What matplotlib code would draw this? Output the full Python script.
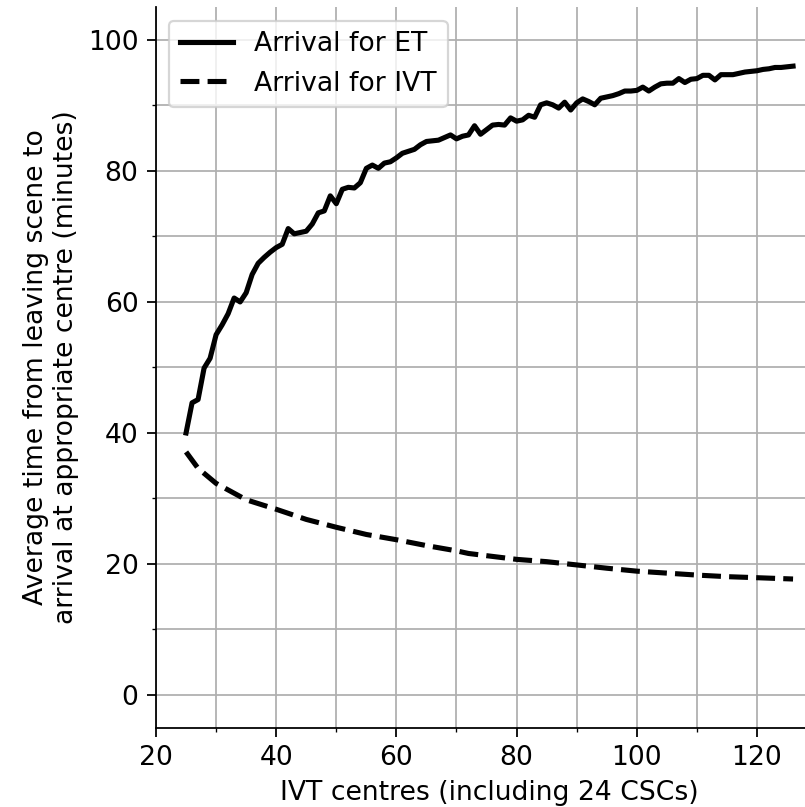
import matplotlib
matplotlib.use("Agg")
import matplotlib.pyplot as plt
from matplotlib.ticker import MultipleLocator

# ---- data ----
et_x = list(range(25, 127))
et_y = [40.0, 44.6, 45.1, 49.9, 51.4, 55.0, 56.5, 58.2, 60.6, 60.0,
        61.4, 64.2, 65.9, 66.8, 67.6, 68.3, 68.8, 71.2, 70.4, 70.6,
        70.8, 71.9, 73.6, 73.9, 76.2, 75.0, 77.2, 77.5, 77.4, 78.2,
        80.4, 80.9, 80.4, 81.2, 81.4, 82.0, 82.7, 83.0, 83.3, 84.0,
        84.5, 84.6, 84.7, 85.1, 85.5, 84.9, 85.3, 85.5, 86.9, 85.6,
        86.3, 87.0, 87.1, 87.0, 88.1, 87.6, 87.8, 88.5, 88.2, 90.1,
        90.4, 90.1, 89.6, 90.5, 89.3, 90.4, 91.0, 90.6, 90.1, 91.1,
        91.3, 91.5, 91.8, 92.2, 92.2, 92.3, 92.8, 92.2, 92.8, 93.3,
        93.4, 93.4, 94.1, 93.5, 94.0, 94.1, 94.6, 94.6, 93.9, 94.7,
        94.7, 94.7, 94.9, 95.1, 95.2, 95.3, 95.5, 95.6, 95.8, 95.8,
        95.9, 96.0]

ivt_x = [25, 27, 30, 35, 40, 45, 50, 55, 60, 65, 70, 72, 80, 85, 90,
         95, 100, 105, 110, 115, 120, 126]
ivt_y = [37.1, 34.6, 32.3, 29.8, 28.35, 26.8, 25.6, 24.5, 23.7, 22.8,
         22.0, 21.6, 20.7, 20.35, 19.85, 19.35, 18.9, 18.6, 18.3, 18.06,
         17.9, 17.7]

labels = ["Arrival for ET", "Arrival for IVT"]
xlabel = "IVT centres (including 24 CSCs)"
ylabel = "Average time from leaving scene to\narrival at appropriate centre (minutes)"

DPI = 160
plt.rcParams["font.size"] = 12
fig = plt.figure(figsize=(805 / DPI, 807 / DPI), dpi=DPI)
ax = fig.add_axes([155.7 / 805, 79.3 / 807, 667.7 / 805, 720.5 / 807])

ax.plot(et_x, et_y, color="black", lw=2.3, linestyle="-", label=labels[0])
ax.plot(ivt_x, ivt_y, color="black", lw=2.3, linestyle="--", label=labels[1])

ax.set_xlim(19.95, 131.05)
ax.set_ylim(-5, 105)
ax.xaxis.set_major_locator(MultipleLocator(20))
ax.xaxis.set_minor_locator(MultipleLocator(10))
ax.yaxis.set_major_locator(MultipleLocator(20))
ax.yaxis.set_minor_locator(MultipleLocator(10))
ax.tick_params(which="major", length=4.2)
ax.tick_params(which="minor", length=2.0)
ax.grid(True, which="both", color="#b0b0b0", linewidth=0.8)
ax.set_axisbelow(True)

ax.spines["top"].set_visible(False)
ax.spines["right"].set_visible(False)

ax.set_xlabel(xlabel)
ax.set_ylabel(ylabel)
ax.legend(loc="upper left")

fig.savefig("out.png", dpi=DPI)
